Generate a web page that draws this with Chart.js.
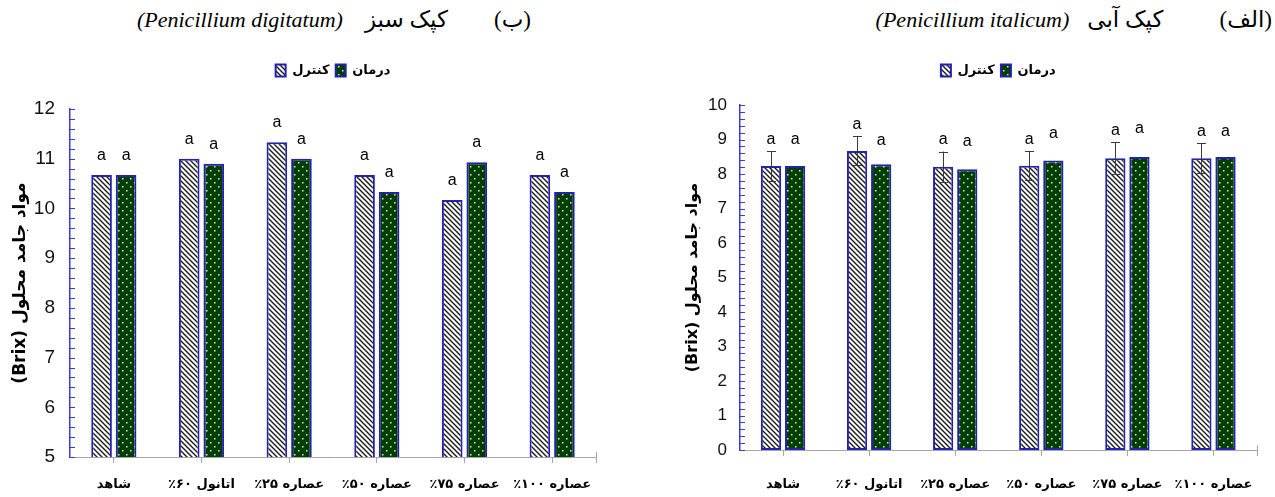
<!DOCTYPE html>
<html lang="fa">
<head>
<meta charset="utf-8">
<title>مواد جامد محلول (Brix)</title>
<script src="https://cdn.jsdelivr.net/npm/chart.js@4.4.1/dist/chart.umd.min.js"></script>
<style>
  html, body { margin: 0; padding: 0; background: #fff; }
  body { width: 1275px; height: 497px; position: relative; overflow: hidden; }
  canvas { position: absolute; top: 0; }
  #chartB { left: 0; }
  #chartA { left: 637px; }
  .title {
    position: absolute; top: 6px; direction: rtl; white-space: nowrap;
    font-family: "Liberation Serif", "DejaVu Sans", serif; font-size: 22px; color: #000;
  }
  .title .fa { font-size: 23px; }
  .title .gap { display: inline-block; width: 46px; }
  .title .gap2 { display: inline-block; width: 22px; }
  #titleA .gap { width: 56px; }
  #titleA .gap2 { width: 18px; }
</style>
</head>
<body>
<div class="title" id="titleB" style="right:744px"><span class="fa">(ب)</span><span class="gap"></span><span class="fa">کپک سبز</span><span class="gap2"></span><i dir="ltr">(Penicillium digitatum)</i></div>
<div class="title" id="titleA" style="right:3px"><span class="fa">(الف)</span><span class="gap"></span><span class="fa">کپک آبی</span><span class="gap2"></span><i dir="ltr">(Penicillium italicum)</i></div>
<canvas id="chartB" width="637" height="497" dir="rtl"></canvas>
<canvas id="chartA" width="638" height="497" dir="rtl"></canvas>
<script>
const categories = ['شاهد', 'اتانول ۶۰٪', 'عصاره ۲۵٪', 'عصاره ۵۰٪', 'عصاره ۷۵٪', 'عصاره ۱۰۰٪'];
const seriesNames = ['کنترل', 'درمان'];
const yTitle = 'مواد جامد محلول (Brix)';

// (ب) Penicillium digitatum
const digitatumControl = [10.67, 11.0, 11.33, 10.67, 10.17, 10.67];
const digitatumTreatment = [10.67, 10.9, 11.0, 10.33, 10.93, 10.33];
const digitatumControlLetters = ['a', 'a', 'a', 'a', 'a', 'a'];
const digitatumTreatmentLetters = ['a', 'a', 'a', 'a', 'a', 'a'];
const digitatumYMin = 5;
const digitatumYMax = 12;

// (الف) Penicillium italicum
const italicumControl = [8.23, 8.67, 8.21, 8.24, 8.46, 8.46];
const italicumTreatment = [8.23, 8.28, 8.14, 8.39, 8.49, 8.49];
const italicumControlErr = [0.43, 0.42, 0.44, 0.42, 0.46, 0.43];
const italicumTreatmentErr = [0.43, 0.35, 0.44, 0.43, 0.49, 0.39]; // not drawn, only lifts the letters
const italicumControlLetters = ['a', 'a', 'a', 'a', 'a', 'a'];
const italicumTreatmentLetters = ['a', 'a', 'a', 'a', 'a', 'a'];
const italicumYMin = 0;
const italicumYMax = 10;

const minorStep = 0.2;
const axisBlue = '#3b3bd6';
const barBorder = '#2222b0';

function hatchPattern() {
  const s = 5;
  const c = document.createElement('canvas');
  c.width = s; c.height = s;
  const g = c.getContext('2d');
  g.fillStyle = '#fff';
  g.fillRect(0, 0, s, s);
  g.strokeStyle = '#1a1a1a';
  g.lineWidth = 1.4;
  g.beginPath();
  [-s, 0, s].forEach(o => { g.moveTo(o - 1, -1); g.lineTo(o + s + 1, s + 1); });
  g.stroke();
  return g.createPattern(c, 'repeat');
}

function dotPattern() {
  const s = 8;
  const c = document.createElement('canvas');
  c.width = s; c.height = s;
  const g = c.getContext('2d');
  g.fillStyle = '#023d02';
  g.fillRect(0, 0, s, s);
  g.fillStyle = '#dcefcf';
  g.fillRect(2, 2, 1.5, 1.5);
  g.fillRect(6, 6, 1.5, 1.5);
  return g.createPattern(c, 'repeat');
}

const hatch = hatchPattern();
const dots = dotPattern();

// minor ticks, error bars and the letters above the bars
const barExtras = {
  id: 'barExtras',
  afterDraw(chart, args, opts) {
    const ctx = chart.ctx;
    const y = chart.scales.y;
    const area = chart.chartArea;
    ctx.save();

    ctx.strokeStyle = axisBlue;
    ctx.lineWidth = 1;
    ctx.beginPath();
    const n = Math.round((y.max - y.min) / minorStep);
    for (let k = 0; k <= n; k++) {
      const py = Math.round(y.getPixelForValue(y.min + k * minorStep)) + 0.5;
      ctx.moveTo(area.left, py);
      ctx.lineTo(area.left + 5, py);
    }
    ctx.stroke();

    ctx.strokeStyle = '#a6a6a6';
    ctx.beginPath();
    ctx.moveTo(Math.round(area.right) + 0.5, area.bottom - 5);
    ctx.lineTo(Math.round(area.right) + 0.5, area.bottom + 6);
    ctx.stroke();

    ctx.font = '16px "Liberation Sans Narrow", "Liberation Sans", sans-serif';
    ctx.fillStyle = '#000';
    ctx.textAlign = 'center';
    ctx.textBaseline = 'middle';
    chart.data.datasets.forEach((ds, i) => {
      const meta = chart.getDatasetMeta(i);
      meta.data.forEach((bar, j) => {
        const v = ds.data[j];
        const err = ds.errors ? ds.errors[j] : 0;
        if (ds.errors && ds.showErrors) {
          const yt = y.getPixelForValue(v + err);
          const yb = y.getPixelForValue(v - err);
          const x = Math.round(bar.x) + 0.5;
          ctx.strokeStyle = '#3a3a3a';
          ctx.lineWidth = 1;
          ctx.beginPath();
          ctx.moveTo(x, yt); ctx.lineTo(x, yb);
          ctx.moveTo(x - 4.5, Math.round(yt) + 0.5); ctx.lineTo(x + 4.5, Math.round(yt) + 0.5);
          ctx.moveTo(x - 4.5, Math.round(yb) + 0.5); ctx.lineTo(x + 4.5, Math.round(yb) + 0.5);
          ctx.stroke();
        }
        const top = y.getPixelForValue(v + err);
        ctx.fillText(ds.letters[j], bar.x, top - opts.letterGap);
      });
    });
    ctx.restore();
  }
};

function makeChart(id, control, treatment, controlLetters, treatmentLetters, yMin, yMax, lay, controlErr, treatmentErr) {
  return new Chart(document.getElementById(id), {
    type: 'bar',
    data: {
      labels: categories,
      datasets: [{
        label: seriesNames[0],
        data: control,
        errors: controlErr,
        showErrors: true,
        letters: controlLetters,
        backgroundColor: hatch,
        borderColor: barBorder,
        borderWidth: 2,
        borderSkipped: false,
        categoryPercentage: 0.56,
        barPercentage: 0.84
      }, {
        label: seriesNames[1],
        data: treatment,
        errors: treatmentErr,
        showErrors: false,
        letters: treatmentLetters,
        backgroundColor: dots,
        borderColor: barBorder,
        borderWidth: 2,
        borderSkipped: false,
        categoryPercentage: 0.56,
        barPercentage: 0.84
      }]
    },
    options: {
      responsive: false,
      animation: false,
      devicePixelRatio: 1,
      layout: { padding: { top: 58, left: 0, right: lay.right, bottom: 0 } },
      scales: {
        x: {
          grid: { display: true, offset: false, drawOnChartArea: false, drawTicks: true, tickLength: 6, color: '#a6a6a6', lineWidth: 1 },
          border: { display: true, color: '#a6a6a6', width: 1 },
          ticks: {
            autoSkip: false, maxRotation: 0, minRotation: 0, padding: lay.xPad, color: '#000',
            font: { family: '"DejaVu Sans", sans-serif', size: 13, weight: 'bold' }
          },
          afterFit(scale) { scale.height = lay.xHeight; }
        },
        y: {
          min: yMin,
          max: yMax,
          grid: { display: false, drawTicks: false },
          border: { display: true, color: axisBlue, width: 1.5 },
          ticks: {
            stepSize: 1, padding: lay.yPad, color: '#111',
            font: { family: '"Liberation Sans Narrow", "Liberation Sans", sans-serif', size: lay.tickSize }
          },
          title: {
            display: true, text: yTitle, color: '#000',
            font: { family: '"DejaVu Sans", sans-serif', size: lay.titleSize, weight: 'bold' },
            padding: { top: lay.titlePad, bottom: 0 }
          },
          afterFit(scale) { scale.width = lay.yWidth; }
        }
      },
      plugins: {
        legend: {
          display: true,
          position: 'top',
          fullSize: false,
          labels: {
            boxWidth: 10, boxHeight: 12, padding: 6, color: '#000',
            font: { family: '"DejaVu Sans", sans-serif', size: 13, weight: 'bold' }
          }
        },
        // empty spacer between the legend and the plot
        title: {
          display: true, text: '', weight: 500, fullSize: false,
          font: { size: 10 }, padding: { top: lay.gap / 2, bottom: lay.gap / 2 }
        },
        tooltip: { enabled: false },
        barExtras: { letterGap: lay.letterGap }
      }
    },
    plugins: [barExtras]
  });
}

makeChart('chartB', digitatumControl, digitatumTreatment, digitatumControlLetters, digitatumTreatmentLetters,
  digitatumYMin, digitatumYMax,
  { right: 41, xPad: 14, xHeight: 40, yPad: 15, yWidth: 70, titlePad: 10, titleSize: 17, tickSize: 19, gap: 10, letterGap: 19.5 },
  null, null);

makeChart('chartA', italicumControl, italicumTreatment, italicumControlLetters, italicumTreatmentLetters,
  italicumYMin, italicumYMax,
  { right: 8, xPad: 21, xHeight: 47, yPad: 13, yWidth: 103, titlePad: 46, titleSize: 16, tickSize: 17, gap: 6, letterGap: 12 },
  italicumControlErr, italicumTreatmentErr);
</script>
</body>
</html>
